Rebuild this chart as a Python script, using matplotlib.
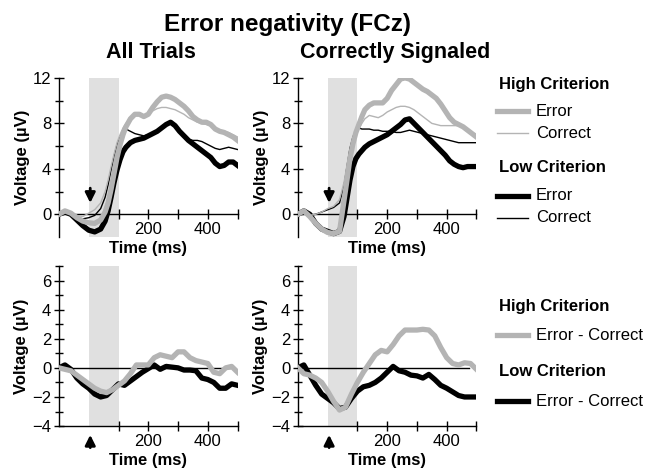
import matplotlib
matplotlib.use('Agg')
import matplotlib.pyplot as plt
from matplotlib.lines import Line2D

plt.rcParams['font.family'] = ['Liberation Sans', 'DejaVu Sans']

# time grids (ms)
t_erp = [-100, -80, -60, -40, -20, 0, 20, 40, 55, 65, 75, 85, 95, 105, 115, 125, 140, 155, 170, 185,
         200, 215, 230, 245, 260, 275, 290, 305, 320, 335, 350, 365, 380, 395, 410, 425, 440, 455, 470, 485, 500]
t_diff = [-100, -80, -60, -40, -20, 0, 20, 40, 60, 80, 100, 120, 140, 160, 180, 200, 220, 240, 260, 280,
          300, 320, 340, 360, 380, 400, 420, 440, 460, 480, 500]

# All Trials
all_high_err = [0, 0.3, 0.1, -0.3, -0.6, -0.75, -0.8, -0.5, 0.2, 1.0, 2.2, 3.6, 5.0, 6.1, 7.0, 7.7, 8.4, 8.8, 8.8, 8.6,
                8.8, 9.4, 9.9, 10.3, 10.4, 10.3, 10.1, 9.8, 9.5, 9.1, 8.6, 8.3, 8.1, 8.1, 7.9, 7.5, 7.3, 7.2, 7.0, 6.8, 6.5]
all_high_cor = [0, 0.2, 0.1, -0.1, -0.2, 0.1, 0.4, 1.0, 2.0, 3.0, 4.2, 5.3, 6.3, 7.0, 7.6, 8.0, 8.5, 8.8, 8.8, 8.7,
                8.8, 9.1, 9.3, 9.4, 9.4, 9.3, 9.2, 9.0, 8.8, 8.5, 8.3, 8.1, 8.0, 7.9, 7.8, 7.6, 7.4, 7.3, 7.2, 7.0, 6.8]
all_low_err = [0, 0.2, 0, -0.5, -1.0, -1.4, -1.55, -1.3, -0.6, 0.3, 1.5, 2.8, 3.9, 4.8, 5.5, 5.9, 6.3, 6.5, 6.6, 6.7,
               6.9, 7.1, 7.3, 7.6, 7.9, 8.1, 7.8, 7.3, 6.9, 6.5, 6.2, 5.9, 5.6, 5.3, 5.0, 4.5, 4.2, 4.3, 4.6, 4.6, 4.3]
all_low_cor = [0, 0.1, -0.1, -0.3, -0.4, -0.3, -0.1, 0.5, 1.5, 2.6, 3.9, 5.1, 6.1, 6.8, 7.3, 7.5, 7.3, 7.1, 7.0, 6.9,
               7.0, 7.2, 7.4, 7.6, 7.8, 8.0, 7.7, 7.3, 6.9, 6.6, 6.5, 6.5, 6.4, 6.2, 6.0, 5.8, 5.7, 5.8, 5.9, 5.8, 5.7]

# Correctly Signaled
sig_high_err = [0, 0.3, -0.2, -0.8, -1.3, -1.6, -1.7, -1.5, 1.2, 3.0, 4.9, 6.2, 7.2, 7.9, 8.6, 9.2, 9.6, 9.8, 9.8, 9.8,
                10.2, 10.9, 11.4, 11.9, 12.0, 11.9, 11.6, 11.3, 11.0, 10.8, 10.5, 10.2, 9.7, 9.1, 8.5, 8.1, 7.9, 7.7, 7.4, 7.1, 6.8]
sig_high_cor = [0, 0.2, -0.1, 0, 0.2, 0.5, 0.7, 1.3, 2.8, 4.3, 5.6, 6.5, 7.0, 7.5, 8.0, 8.4, 8.7, 8.6, 8.5, 8.7,
                9.0, 9.2, 9.4, 9.5, 9.5, 9.4, 9.2, 8.9, 8.6, 8.3, 8.0, 7.9, 7.8, 7.8, 7.8, 7.8, 7.8, 7.7, 7.5, 7.2, 7.0]
sig_low_err = [0, 0.3, 0, -0.8, -1.3, -1.5, -1.7, -1.5, -0.2, 1.4, 3.0, 4.2, 4.9, 5.3, 5.6, 5.9, 6.2, 6.4, 6.6, 6.8,
               7.0, 7.3, 7.6, 7.9, 8.3, 8.4, 8.0, 7.6, 7.2, 6.8, 6.4, 6.0, 5.6, 5.2, 4.7, 4.4, 4.2, 4.1, 4.2, 4.2, 4.2]
sig_low_cor = [0, 0.2, -0.1, 0, 0.2, 0.4, 0.6, 1.0, 2.5, 4.2, 5.8, 6.8, 7.4, 7.6, 7.5, 7.5, 7.5, 7.4, 7.4, 7.3,
               7.3, 7.3, 7.2, 7.2, 7.3, 7.4, 7.3, 7.2, 7.1, 7.0, 6.9, 6.8, 6.7, 6.6, 6.5, 6.4, 6.3, 6.3, 6.3, 6.3, 6.3]

# Error - Correct
all_high_diff = [0, -0.1, -0.2, -0.5, -0.8, -1.1, -1.4, -1.6, -1.7, -1.5, -1.2, -0.9, -0.4, 0.2, 0.2, 0.2, 0.7, 0.9, 0.8, 0.7,
                 1.1, 1.1, 0.7, 0.5, 0.4, 0.3, -0.3, -0.4, 0.0, 0.1, -0.3]
all_low_diff = [0, 0.2, -0.1, -0.7, -1.1, -1.4, -1.8, -2.0, -1.9, -1.5, -1.1, -1.2, -0.9, -0.6, -0.3, -0.05, 0.2, -0.1, 0.1, 0.05,
                0.0, -0.15, -0.15, -0.2, -0.7, -0.8, -1.0, -1.4, -1.4, -1.1, -1.2]
sig_high_diff = [0, -0.4, -0.5, -0.7, -1.0, -1.6, -2.3, -2.9, -2.7, -1.8, -1.0, -0.3, 0.3, 0.9, 1.2, 1.1, 1.6, 2.2, 2.6, 2.6,
                 2.6, 2.65, 2.6, 2.2, 1.4, 0.7, 0.3, 0.2, 0.35, 0.3, -0.1]
sig_low_diff = [0, 0.2, -0.5, -1.2, -1.8, -2.1, -2.4, -2.8, -2.7, -2.1, -1.6, -1.3, -1.2, -1.0, -0.7, -0.3, 0.1, -0.2, -0.3, -0.5,
                -0.55, -0.7, -0.45, -0.8, -1.2, -1.4, -1.65, -1.9, -2.0, -2.0, -2.0]

GRAY = '#b4b4b4'
SHADE = '#e0e0e0'
THICK = 3.8
THIN = 1.0
ARROW = dict(arrowstyle='-|>', color='k', lw=2, mutation_scale=15, shrinkA=0, shrinkB=0)

fig = plt.figure(figsize=(6.59, 4.75), dpi=100)


def style_axes(ax, top):
    ax.set_xlim(-100, 500)
    ax.axvspan(0, 100, color=SHADE, lw=0, zorder=0)
    for s in ['top', 'right']:
        ax.spines[s].set_visible(False)
    ax.set_xticks([100, 200, 300, 400, 500])
    ax.set_xticklabels(['', '200', '', '400', ''])
    ax.tick_params(direction='inout', length=7, width=1, labelsize=12, pad=2)
    ax.tick_params(which='minor', direction='inout', length=6, width=1)
    ax.set_ylabel('Voltage (µV)', fontsize=12, fontweight='bold', labelpad=2)
    ax.set_xlabel('Time (ms)', fontsize=12, fontweight='bold', labelpad=3)
    if top:
        ax.set_ylim(-2, 12)
        ax.set_yticks([0, 4, 8, 12])
        ax.set_yticks([2, 6, 10], minor=True)
        ax.spines['bottom'].set_position(('data', 0))
        ax.annotate('', xy=(5, 1.0), xytext=(5, 2.3), arrowprops=ARROW)
    else:
        ax.set_ylim(-4, 7)
        ax.set_yticks([-4, -2, 0, 2, 4, 6])
        ax.set_yticks([-3, -1, 1, 3, 5, 7], minor=True)
        ax.plot([-100, 475], [0, 0], color='k', lw=1.0, zorder=1)
        ax.annotate('', xy=(5, -0.055), xytext=(5, -0.135), xycoords=('data', 'axes fraction'),
                    arrowprops=ARROW)
    for s in ['left', 'bottom']:
        ax.spines[s].set_linewidth(1)


ax1 = fig.add_axes([0.0895, 0.501, 0.271, 0.335])
ax2 = fig.add_axes([0.452, 0.501, 0.271, 0.335])
ax3 = fig.add_axes([0.0895, 0.103, 0.271, 0.337])
ax4 = fig.add_axes([0.452, 0.103, 0.271, 0.337])

for ax, he, hc, le, lc in [(ax1, all_high_err, all_high_cor, all_low_err, all_low_cor),
                           (ax2, sig_high_err, sig_high_cor, sig_low_err, sig_low_cor)]:
    style_axes(ax, True)
    ax.plot(t_erp, lc, color='k', lw=THIN, zorder=3)
    ax.plot(t_erp, le, color='k', lw=THICK, zorder=3, solid_joinstyle='round')
    ax.plot(t_erp, hc, color=GRAY, lw=THIN, zorder=4)
    ax.plot(t_erp, he, color=GRAY, lw=THICK, zorder=4, solid_joinstyle='round')

for ax, hd, ld in [(ax3, all_high_diff, all_low_diff), (ax4, sig_high_diff, sig_low_diff)]:
    style_axes(ax, False)
    ax.plot(t_diff, ld, color='k', lw=THICK, zorder=3, solid_joinstyle='round')
    ax.plot(t_diff, hd, color=GRAY, lw=THICK, zorder=4, solid_joinstyle='round')

# titles
W, H = 659.0, 475.0
fig.text(288 / W, 1 - 31 / H, 'Error negativity (FCz)', ha='center', va='baseline', fontsize=17.5, fontweight='bold')
fig.text(151 / W, 1 - 58 / H, 'All Trials', ha='center', va='baseline', fontsize=15.5, fontweight='bold')
fig.text(395 / W, 1 - 58 / H, 'Correctly Signaled', ha='center', va='baseline', fontsize=15.5, fontweight='bold')


# legends
def legend_row(y, color, lw, label):
    fig.add_artist(Line2D([497 / W, 528 / W], [1 - y / H, 1 - y / H], color=color, lw=lw,
                          transform=fig.transFigure))
    fig.text(536 / W, 1 - y / H, label, ha='left', va='center', fontsize=12)


def legend_head(y, label):
    fig.text(499 / W, 1 - y / H, label, ha='left', va='center', fontsize=12, fontweight='bold')


legend_head(84, 'High Criterion')
legend_row(111, GRAY, THICK, 'Error')
legend_row(133, GRAY, THIN, 'Correct')
legend_head(168, 'Low Criterion')
legend_row(196, 'k', THICK, 'Error')
legend_row(218, 'k', THIN, 'Correct')

legend_head(306, 'High Criterion')
legend_row(335, GRAY, THICK, 'Error - Correct')
legend_head(372, 'Low Criterion')
legend_row(401, 'k', THICK, 'Error - Correct')

fig.savefig('out.png', dpi=100)
